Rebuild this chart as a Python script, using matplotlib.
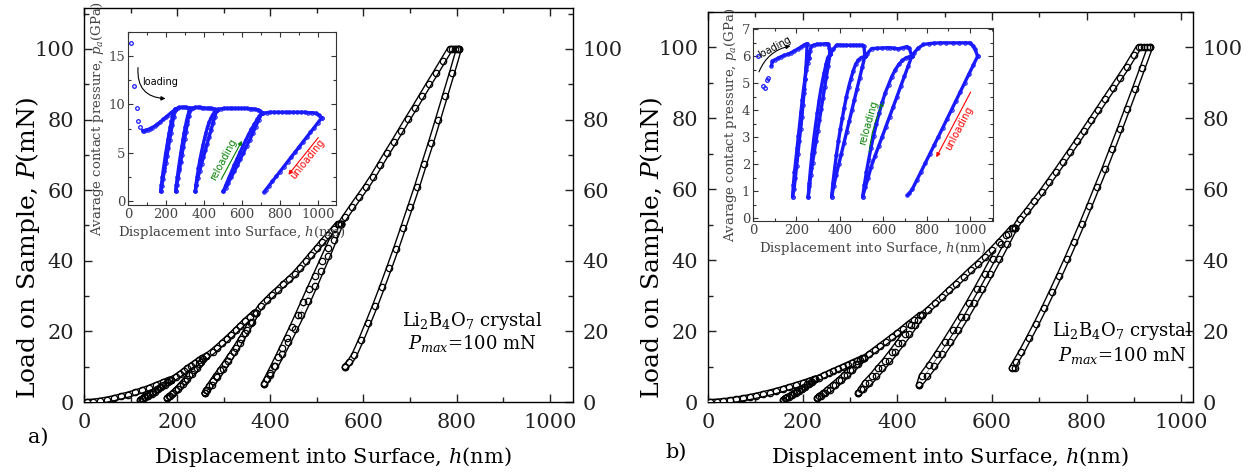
import matplotlib
matplotlib.use("Agg")
import matplotlib.pyplot as plt
from matplotlib.ticker import MultipleLocator

plt.rcParams["font.family"] = ["DejaVu Serif"]
plt.rcParams["mathtext.fontset"] = "dejavuserif"

W, H = 1252, 475

# ---- panel a: load (mN) vs displacement (nm) ----
a_load0_h = [6, 20, 35, 50, 65, 80, 95, 110, 125, 140, 155, 170, 183, 187]
a_load0_p = [0.0, 0.1, 0.35, 0.7, 1.1, 1.6, 2.1, 2.7, 3.3, 4.0, 4.8, 5.6, 6.3, 6.3]
a_unl1_h = [187, 180, 173, 166, 159, 152, 145, 138, 131, 126, 121]
a_unl1_p = [6.3, 5.6, 4.9, 4.2, 3.6, 2.9, 2.3, 1.8, 1.3, 0.9, 0.6]
a_rel1_h = [121, 124, 129, 135, 142, 149, 156, 163, 170, 178, 187]
a_rel1_p = [0.6, 0.9, 1.3, 1.8, 2.3, 2.9, 3.6, 4.2, 4.9, 5.6, 6.3]
a_load1_h = [187, 198, 206, 214, 222, 230, 238, 246, 254, 262]
a_load1_p = [6.3, 7.2, 7.9, 8.7, 9.5, 10.3, 11.0, 11.8, 12.5, 12.9]
a_unl2_h = [262, 252, 242, 232, 222, 212, 202, 192, 185, 178]
a_unl2_p = [12.9, 11.2, 9.6, 8.0, 6.6, 5.2, 3.8, 2.6, 1.8, 1.1]
a_rel2_h = [178, 183, 189, 197, 206, 216, 226, 236, 246, 255, 262]
a_rel2_p = [1.1, 1.6, 2.3, 3.3, 4.5, 6.0, 7.6, 9.2, 10.9, 12.3, 12.9]
a_load2_h = [262, 276, 286, 296, 306, 316, 326, 336, 346, 356, 366, 370]
a_load2_p = [12.9, 14.3, 15.4, 16.6, 17.8, 19.0, 20.3, 21.6, 22.9, 24.1, 25.3, 25.3]
a_unl3_h = [370, 358, 346, 334, 322, 310, 298, 286, 274, 265, 259]
a_unl3_p = [25.3, 22.4, 19.6, 16.8, 14.2, 11.7, 9.3, 7.0, 4.9, 3.4, 2.5]
a_rel3_h = [259, 263, 269, 276, 284, 293, 303, 314, 326, 338, 350, 360, 370]
a_rel3_p = [2.5, 3.3, 4.5, 5.9, 7.4, 9.0, 10.9, 13.0, 15.4, 17.9, 20.5, 22.8, 25.3]
a_load3_h = [370, 380, 392, 404, 416, 428, 440, 452, 464, 476, 488, 500, 512, 524, 536,
             545, 548, 551]
a_load3_p = [25.3, 27.2, 28.8, 30.4, 31.8, 33.3, 34.7, 36.2, 38.0, 39.8, 41.7, 43.5,
             45.4, 47.2, 49.0, 50.4, 50.4, 50.5]
a_unl4_h = [551, 537, 523, 509, 495, 481, 467, 453, 439, 425, 411, 399, 387]
a_unl4_p = [50.5, 45.9, 41.4, 37.1, 32.8, 28.6, 24.6, 20.8, 17.1, 13.5, 10.2, 7.6, 5.1]
a_rel4_h = [387, 392, 399, 407, 416, 426, 436, 447, 459, 471, 484, 497, 511, 524, 538, 551]
a_rel4_p = [5.1, 6.4, 8.2, 10.3, 12.7, 15.4, 18.2, 21.2, 24.7, 28.2, 32.0, 35.8, 39.9,
            43.7, 47.6, 50.5]
a_load4_h = [551, 560, 575, 590, 605, 620, 635, 650, 665, 680, 695, 710, 725, 740, 755,
             770, 786, 791, 796, 801, 805]
a_load4_p = [50.5, 52.3, 55.2, 58.0, 60.8, 63.8, 67.1, 70.4, 73.6, 76.9, 80.2, 83.4,
             86.7, 90.0, 93.2, 96.5, 100.0, 100.0, 100.0, 100.0, 100.0]
a_unl5_h = [805, 790, 775, 760, 745, 730, 715, 700, 685, 670, 655, 640, 625, 610, 595,
            580, 570, 560, 561]
a_unl5_p = [100.0, 93.2, 86.6, 80.0, 73.5, 67.3, 61.0, 55.1, 49.2, 43.4, 37.9, 32.5,
            27.3, 22.4, 17.6, 13.2, 11.2, 9.9, 9.9]

# ---- panel b ----
b_load0_h = [4, 18, 32, 46, 60, 74, 88, 102, 116, 130, 144, 158, 172, 186, 200, 214,
             223, 227]
b_load0_p = [0.0, 0.08, 0.24, 0.45, 0.72, 1.04, 1.38, 1.77, 2.19, 2.64, 3.12, 3.64,
             4.19, 4.76, 5.36, 5.98, 6.4, 6.4]
b_unl1_h = [227, 220, 213, 206, 199, 192, 185, 178, 171, 165, 159]
b_unl1_p = [6.4, 5.7, 5.0, 4.3, 3.7, 3.1, 2.5, 1.9, 1.4, 1.0, 0.6]
b_rel1_h = [159, 163, 168, 175, 182, 189, 196, 203, 210, 218, 227]
b_rel1_p = [0.6, 1.0, 1.4, 1.9, 2.5, 3.1, 3.7, 4.3, 5.0, 5.7, 6.4]
b_load1_h = [227, 235, 245, 255, 265, 275, 285, 295, 305, 315, 325, 329]
b_load1_p = [6.4, 6.9, 7.5, 8.1, 8.7, 9.3, 9.9, 10.5, 11.1, 11.7, 12.3, 12.3]
b_unl2_h = [329, 317, 305, 293, 281, 269, 257, 247, 239, 231]
b_unl2_p = [12.3, 10.7, 9.1, 7.5, 6.1, 4.7, 3.4, 2.4, 1.7, 1.0]
b_rel2_h = [231, 235, 244, 252, 264, 276, 288, 300, 312, 322, 329]
b_rel2_p = [1.0, 1.7, 2.4, 3.4, 4.7, 6.1, 7.5, 9.1, 10.7, 11.8, 12.3]
b_load2_h = [329, 340, 352, 364, 376, 388, 400, 412, 424, 436, 448, 452]
b_load2_p = [12.3, 13.4, 14.6, 15.8, 17.0, 18.2, 19.4, 20.7, 22.0, 23.2, 24.5, 24.5]
b_unl3_h = [452, 438, 424, 410, 396, 382, 368, 354, 340, 328, 318]
b_unl3_p = [24.5, 21.8, 19.1, 16.6, 14.1, 11.7, 9.5, 7.3, 5.3, 3.7, 2.5]
b_rel3_h = [318, 324, 332, 346, 360, 374, 388, 402, 416, 430, 444, 452]
b_rel3_p = [2.5, 3.7, 5.3, 7.3, 9.5, 11.7, 14.1, 16.6, 19.1, 21.8, 23.2, 24.5]
b_load3_h = [452, 465, 480, 495, 510, 525, 540, 555, 570, 585, 600, 615, 630, 642, 645,
             648]
b_load3_p = [24.5, 26.0, 27.8, 29.7, 31.6, 33.4, 35.3, 37.2, 39.0, 40.9, 42.9, 45.0,
             47.2, 49.0, 49.0, 49.0]
b_unl4_h = [648, 631, 614, 597, 580, 563, 546, 529, 512, 495, 478, 462, 446]
b_unl4_p = [49.0, 44.6, 40.3, 36.1, 32.0, 28.0, 24.1, 20.4, 16.9, 13.5, 10.2, 7.4, 4.8]
b_rel4_h = [446, 452, 468, 484, 500, 517, 534, 551, 568, 585, 602, 619, 634, 648]
b_rel4_p = [4.8, 7.4, 10.3, 13.5, 16.8, 20.4, 24.1, 28.0, 32.0, 36.1, 40.3, 44.6, 47.3, 49.0]
b_load4_h = [648, 660, 675, 690, 705, 720, 735, 750, 765, 780, 795, 810, 825, 840, 855,
             870, 885, 900, 910, 916, 922, 928, 934]
b_load4_p = [49.0, 51.5, 54.0, 56.6, 59.2, 62.0, 64.8, 67.7, 70.6, 73.5, 76.5, 79.5,
             82.5, 85.5, 88.5, 91.5, 94.5, 97.8, 100.0, 100.0, 100.0, 100.0, 100.0]
b_unl5_h = [934, 918, 902, 886, 870, 854, 838, 822, 806, 790, 774, 758, 742, 726, 710,
            694, 678, 662, 650, 642, 648]
b_unl5_p = [100.0, 94.1, 88.3, 82.6, 76.9, 71.3, 65.8, 60.6, 55.3, 50.1, 45.1, 40.2,
            35.5, 30.9, 26.4, 22.1, 18.0, 14.0, 11.3, 9.5, 9.5]

# ---- inset a: average contact pressure (GPa) vs displacement (nm) ----
ia_start_h = [16, 33, 46, 54, 63]
ia_start_p = [16.4, 11.9, 9.6, 8.3, 7.7]
ia_load_h = [77, 85, 95, 105, 115, 125, 140, 155, 170, 185, 200, 215, 230, 247]
ia_load_p = [7.3, 7.3, 7.35, 7.4, 7.5, 7.6, 7.75, 7.95, 8.2, 8.45, 8.7, 8.95, 9.2, 9.45]
ia_unl1_h = [247, 240, 233, 226, 219, 212, 205, 198, 191, 184, 178, 172]
ia_unl1_p = [9.45, 8.7, 7.9, 7.1, 6.3, 5.5, 4.7, 3.9, 3.1, 2.3, 1.6, 1.0]
ia_rel1_h = [172, 176, 181, 187, 193, 199, 205, 211, 217, 223, 229, 235, 241, 247]
ia_rel1_p = [1.0, 1.7, 2.5, 3.4, 4.2, 5.0, 5.7, 6.4, 7.1, 7.7, 8.3, 8.8, 9.2, 9.5]
ia_pl1_h = [247, 254, 262, 270, 282, 294, 306, 318, 326]
ia_pl1_p = [9.5, 9.55, 9.65, 9.7, 9.7, 9.7, 9.7, 9.65, 9.6]
ia_unl2_h = [326, 319, 312, 305, 298, 291, 284, 277, 270, 263, 257, 251]
ia_unl2_p = [9.6, 8.8, 8.0, 7.2, 6.4, 5.6, 4.8, 4.0, 3.2, 2.4, 1.7, 1.0]
ia_rel2_h = [251, 255, 260, 266, 272, 278, 284, 290, 296, 302, 308, 314, 320, 326]
ia_rel2_p = [1.0, 1.7, 2.5, 3.4, 4.2, 5.0, 5.7, 6.4, 7.1, 7.7, 8.3, 8.8, 9.2, 9.5]
ia_pl2_h = [326, 332, 342, 354, 366, 378, 390, 402, 414, 426, 438, 450, 460, 467]
ia_pl2_p = [9.5, 9.55, 9.65, 9.7, 9.7, 9.7, 9.65, 9.65, 9.6, 9.6, 9.6, 9.55, 9.5, 9.45]
ia_unl3_h = [467, 457, 447, 437, 427, 417, 407, 397, 387, 377, 367, 360, 354]
ia_unl3_p = [9.45, 8.75, 8.05, 7.35, 6.65, 5.95, 5.25, 4.55, 3.85, 3.1, 2.35, 1.7, 1.0]
ia_rel3_h = [354, 358, 364, 371, 379, 387, 395, 403, 411, 419, 428, 437, 446, 456, 467]
ia_rel3_p = [1.0, 1.7, 2.5, 3.4, 4.3, 5.1, 5.8, 6.5, 7.1, 7.7, 8.2, 8.6, 8.95, 9.2, 9.45]
ia_pl3_h = [467, 475, 490, 505, 520, 535, 550, 565, 580, 595, 610, 625, 640, 655, 670,
            685, 697, 704]
ia_pl3_p = [9.45, 9.5, 9.55, 9.6, 9.6, 9.6, 9.6, 9.6, 9.6, 9.6, 9.6, 9.6, 9.55, 9.55,
            9.5, 9.45, 9.3, 9.1]
ia_unl4_h = [704, 688, 672, 656, 640, 624, 608, 592, 576, 560, 544, 528, 515, 502]
ia_unl4_p = [9.1, 8.4, 7.7, 7.0, 6.3, 5.7, 5.0, 4.4, 3.7, 3.1, 2.5, 1.9, 1.4, 1.0]
ia_rel4_h = [502, 515, 530, 545, 560, 575, 590, 605, 620, 635, 650, 665, 680, 692, 704]
ia_rel4_p = [1.0, 1.65, 2.35, 3.05, 3.75, 4.4, 5.05, 5.7, 6.3, 6.9, 7.45, 7.95, 8.45,
             8.8, 9.1]
ia_pl4_h = [704, 712, 730, 750, 770, 790, 810, 830, 850, 870, 890, 910, 930, 950, 970,
            990, 1005, 1019]
ia_pl4_p = [9.1, 9.1, 9.15, 9.2, 9.2, 9.2, 9.2, 9.2, 9.2, 9.2, 9.2, 9.2, 9.2, 9.15, 9.15,
            9.1, 8.9, 8.6]
ia_unl5_h = [1019, 1000, 980, 960, 940, 920, 900, 880, 860, 840, 820, 800, 780, 760, 740,
             725, 716]
ia_unl5_p = [8.6, 8.12, 7.61, 7.11, 6.6, 6.1, 5.59, 5.08, 4.58, 4.07, 3.56, 3.06, 2.55,
             2.05, 1.54, 1.16, 0.93]

# ---- inset b ----
ib_start_h = [23, 46, 54, 65, 71]
ib_start_p = [6.0, 4.9, 4.83, 5.14, 5.2]
ib_load_h = [85, 89, 100, 115, 130, 145, 160, 175, 190, 205, 220, 235, 249]
ib_load_p = [5.64, 5.82, 5.87, 5.93, 5.99, 6.04, 6.08, 6.13, 6.2, 6.27, 6.34, 6.42, 6.47]
ib_unl1_h = [249, 247, 244, 240, 235, 230, 225, 219, 213, 207, 201, 195, 189, 182]
ib_unl1_p = [6.47, 6.0, 5.6, 5.15, 4.65, 4.2, 3.75, 3.3, 2.85, 2.4, 1.95, 1.5, 1.1, 0.8]
ib_rel1_h = [182, 186, 191, 197, 203, 209, 215, 221, 227, 233, 239, 245, 251, 257]
ib_rel1_p = [0.8, 1.25, 1.7, 2.15, 2.6, 3.05, 3.5, 3.95, 4.4, 4.8, 5.15, 5.5, 5.75, 5.95]
ib_pl1_h = [257, 262, 269, 280, 295, 310, 325, 340, 347, 352, 354]
ib_pl1_p = [5.95, 6.2, 6.38, 6.42, 6.45, 6.45, 6.46, 6.47, 6.45, 6.3, 6.07]
ib_unl2_h = [354, 346, 338, 330, 322, 314, 306, 298, 290, 282, 274, 266, 260, 254]
ib_unl2_p = [6.07, 5.65, 5.25, 4.85, 4.45, 4.05, 3.65, 3.25, 2.85, 2.45, 2.05, 1.6, 1.2, 0.78]
ib_rel2_h = [254, 259, 265, 272, 280, 288, 296, 304, 312, 320, 328, 336, 344, 354]
ib_rel2_p = [0.78, 1.3, 1.85, 2.4, 2.95, 3.45, 3.9, 4.35, 4.75, 5.1, 5.4, 5.7, 5.95, 6.07]
ib_pl2_h = [354, 369, 385, 400, 415, 430, 445, 460, 475, 490, 500, 511, 515]
ib_pl2_p = [6.07, 6.26, 6.42, 6.42, 6.41, 6.41, 6.41, 6.41, 6.41, 6.41, 6.41, 6.37, 6.0]
ib_unl3_h = [515, 503, 491, 479, 467, 455, 443, 431, 419, 407, 395, 383, 372, 362]
ib_unl3_p = [6.0, 5.6, 5.2, 4.8, 4.4, 4.0, 3.6, 3.2, 2.8, 2.4, 2.0, 1.6, 1.2, 0.8]
ib_rel3_h = [362, 368, 376, 384, 393, 402, 411, 420, 430, 440, 450, 461, 472, 484, 497, 515]
ib_rel3_p = [0.8, 1.3, 1.85, 2.35, 2.85, 3.3, 3.7, 4.1, 4.5, 4.85, 5.15, 5.45, 5.7, 5.85,
             5.95, 6.0]
ib_pl3_h = [515, 523, 546, 570, 595, 615, 631, 650, 669, 690, 708, 720, 731]
ib_pl3_p = [6.0, 6.07, 6.29, 6.3, 6.31, 6.32, 6.32, 6.3, 6.28, 6.32, 6.36, 6.3, 6.0]
ib_unl4_h = [731, 714, 697, 680, 663, 646, 629, 612, 595, 578, 561, 544, 530, 517, 505]
ib_unl4_p = [6.0, 5.63, 5.26, 4.89, 4.51, 4.14, 3.77, 3.4, 3.03, 2.66, 2.29, 1.91, 1.5,
             1.15, 0.8]
ib_rel4_h = [505, 513, 522, 532, 543, 555, 568, 581, 595, 609, 624, 639, 655, 671, 688,
             705, 718, 731]
ib_rel4_p = [0.8, 1.25, 1.7, 2.15, 2.6, 3.05, 3.5, 3.9, 4.3, 4.65, 4.95, 5.25, 5.5, 5.7,
             5.85, 5.95, 5.98, 6.0]
ib_pl4_h = [731, 742, 760, 785, 810, 835, 862, 890, 920, 950, 975, 1000, 1012, 1023, 1034]
ib_pl4_p = [6.0, 6.13, 6.3, 6.44, 6.47, 6.49, 6.5, 6.5, 6.5, 6.5, 6.5, 6.5, 6.4, 6.26, 6.0]
ib_unl5_h = [1034, 1014, 994, 974, 954, 934, 914, 894, 874, 854, 834, 814, 794, 774, 754,
             734, 720, 711]
ib_unl5_p = [6.0, 5.67, 5.34, 5.01, 4.68, 4.35, 4.02, 3.69, 3.36, 3.03, 2.71, 2.38, 2.06,
             1.73, 1.41, 1.09, 0.93, 0.85]

a_segments = [(a_load0_h, a_load0_p), (a_unl1_h, a_unl1_p), (a_rel1_h, a_rel1_p),
              (a_load1_h, a_load1_p), (a_unl2_h, a_unl2_p), (a_rel2_h, a_rel2_p),
              (a_load2_h, a_load2_p), (a_unl3_h, a_unl3_p), (a_rel3_h, a_rel3_p),
              (a_load3_h, a_load3_p), (a_unl4_h, a_unl4_p), (a_rel4_h, a_rel4_p),
              (a_load4_h, a_load4_p), (a_unl5_h, a_unl5_p)]
b_segments = [(b_load0_h, b_load0_p), (b_unl1_h, b_unl1_p), (b_rel1_h, b_rel1_p),
              (b_load1_h, b_load1_p), (b_unl2_h, b_unl2_p), (b_rel2_h, b_rel2_p),
              (b_load2_h, b_load2_p), (b_unl3_h, b_unl3_p), (b_rel3_h, b_rel3_p),
              (b_load3_h, b_load3_p), (b_unl4_h, b_unl4_p), (b_rel4_h, b_rel4_p),
              (b_load4_h, b_load4_p), (b_unl5_h, b_unl5_p)]
ia_segments = [(ia_load_h, ia_load_p), (ia_unl1_h, ia_unl1_p), (ia_rel1_h, ia_rel1_p),
               (ia_pl1_h, ia_pl1_p), (ia_unl2_h, ia_unl2_p), (ia_rel2_h, ia_rel2_p),
               (ia_pl2_h, ia_pl2_p), (ia_unl3_h, ia_unl3_p), (ia_rel3_h, ia_rel3_p),
               (ia_pl3_h, ia_pl3_p), (ia_unl4_h, ia_unl4_p), (ia_rel4_h, ia_rel4_p),
               (ia_pl4_h, ia_pl4_p), (ia_unl5_h, ia_unl5_p)]
ib_segments = [(ib_load_h, ib_load_p), (ib_unl1_h, ib_unl1_p), (ib_rel1_h, ib_rel1_p),
               (ib_pl1_h, ib_pl1_p), (ib_unl2_h, ib_unl2_p), (ib_rel2_h, ib_rel2_p),
               (ib_pl2_h, ib_pl2_p), (ib_unl3_h, ib_unl3_p), (ib_rel3_h, ib_rel3_p),
               (ib_pl3_h, ib_pl3_p), (ib_unl4_h, ib_unl4_p), (ib_rel4_h, ib_rel4_p),
               (ib_pl4_h, ib_pl4_p), (ib_unl5_h, ib_unl5_p)]


def box(left, top, right, bottom):
    """pixel box -> figure fraction rect"""
    return [left / W, 1 - bottom / H, (right - left) / W, (bottom - top) / H]


def style_main(ax, xmax, ymax):
    ax.set_xlim(0, xmax)
    ax.set_ylim(0, ymax)
    ax.xaxis.set_major_locator(MultipleLocator(200))
    ax.xaxis.set_minor_locator(MultipleLocator(100))
    ax.yaxis.set_major_locator(MultipleLocator(20))
    ax.yaxis.set_minor_locator(MultipleLocator(10))
    ax.tick_params(which="both", direction="in", top=True, right=True,
                   labelright=True, labelsize=15, width=1.0, colors="#222222")
    ax.tick_params(which="major", length=6)
    ax.tick_params(which="minor", length=3.5)
    ax.tick_params(axis="x", pad=8)
    ax.tick_params(axis="y", pad=7)
    for s in ax.spines.values():
        s.set_linewidth(1.0)


def style_inset(ax, xmax, ylo, yhi, ymaj, ymin):
    ax.set_facecolor("white")
    ax.set_xlim(0, xmax)
    ax.set_ylim(ylo, yhi)
    ax.xaxis.set_major_locator(MultipleLocator(200))
    ax.xaxis.set_minor_locator(MultipleLocator(100))
    ax.yaxis.set_major_locator(MultipleLocator(ymaj))
    ax.yaxis.set_minor_locator(MultipleLocator(ymin))
    ax.tick_params(which="both", direction="in", top=True, right=True,
                   labelsize=9.5, width=0.8, colors="#333333", labelcolor="#444444",
                   pad=2)
    ax.tick_params(which="major", length=3.5)
    ax.tick_params(which="minor", length=2)
    for s in ax.spines.values():
        s.set_linewidth(0.8)
        s.set_color("#333333")
    ax.set_xlabel("Displacement into Surface, $h$(nm)", fontsize=9.5, color="#444444",
                  labelpad=2)
    ax.set_ylabel("Avarage contact pressure, $p_a$(GPa)", fontsize=9.5,
                  color="#444444", labelpad=2)


def chain(ax, segs, color, outer, inner, ms, mew):
    # dense runs of open circles: dark tube, light core, then the read points
    for h, p in segs:
        ax.plot(h, p, "-", lw=outer, color=color, solid_capstyle="round",
                solid_joinstyle="round", zorder=2)
    if inner:
        for h, p in segs:
            ax.plot(h, p, "-", lw=inner, color="white", solid_capstyle="round",
                    solid_joinstyle="round", zorder=3)
    for h, p in segs:
        ax.plot(h, p, "o", ms=ms, mfc="none", mec=color, mew=mew, zorder=4)


fig = plt.figure(figsize=(W / 100, H / 100), dpi=100)

ax_a = fig.add_axes(box(84, 8, 573, 402))
ax_b = fig.add_axes(box(708, 12, 1193, 402))
style_main(ax_a, 1050, 111.6)
style_main(ax_b, 1025, 110)

for ax, segs in ((ax_a, a_segments), (ax_b, b_segments)):
    chain(ax, segs, "black", 4.6, 2.6, 4.6, 0.9)

for x in (333, 950):
    fig.text(x / W, 1 - 457 / H, "Displacement into Surface, $h$(nm)", fontsize=15,
             ha="center", va="center")
for x in (28, 652):
    fig.text(x / W, 1 - 248 / H, "Load on Sample, $P$(mN)", fontsize=18,
             ha="center", va="center", rotation=90)

for x, y1, y2 in ((472, 321, 343), (1122, 331, 355)):
    fig.text(x / W, 1 - y1 / H, "Li$_2$B$_4$O$_7$ crystal", fontsize=13,
             ha="center", va="center")
    fig.text(x / W, 1 - y2 / H, "$P_{max}$=100 mN", fontsize=13,
             ha="center", va="center")

fig.text(38 / W, 1 - 437 / H, "a)", fontsize=15, ha="center", va="center")
fig.text(676 / W, 1 - 452 / H, "b)", fontsize=15, ha="center", va="center")

# insets
ins_a = fig.add_axes(box(128, 32, 336, 205))
ins_b = fig.add_axes(box(753, 28, 993, 221))
style_inset(ins_a, 1095, -0.4, 17.5, 5, 2.5)
style_inset(ins_b, 1105, -0.1, 7.05, 1, 0.5)
blue = "#1a1aff"
chain(ins_a, ia_segments, blue, 2.4, 0, 2.4, 0.8)
chain(ins_b, ib_segments, blue, 2.4, 0, 2.4, 0.8)
ins_a.plot(ia_start_h, ia_start_p, "o", ms=2.6, mfc="none", mec=blue, mew=0.9)
ins_b.plot(ib_start_h, ib_start_p, "o", ms=2.6, mfc="none", mec=blue, mew=0.9)

sans = ["DejaVu Sans"]
# inset a annotations
ins_a.annotate("", xy=(212, 10.6), xytext=(54, 14.1),
               arrowprops=dict(arrowstyle="-|>", color="black", lw=0.8,
                               mutation_scale=6, connectionstyle="arc3,rad=0.55"))
ins_a.text(168, 12.3, "loading", fontsize=7, family=sans, ha="center", va="center")
ins_a.annotate("", xy=(607, 6.5), xytext=(484, 2.0),
               arrowprops=dict(arrowstyle="-|>", color="green", lw=0.8, mutation_scale=6))
ins_a.text(502, 4.3, "reloading", fontsize=7, family=sans, color="green",
           rotation=62, ha="center", va="center")
ins_a.annotate("", xy=(835, 2.5), xytext=(1011, 6.8),
               arrowprops=dict(arrowstyle="-|>", color="red", lw=0.8, mutation_scale=6))
ins_a.text(945, 4.4, "unloading", fontsize=7, family=sans, color="red",
           rotation=51, ha="center", va="center")

# inset b annotations
ins_b.annotate("", xy=(185, 6.4), xytext=(23, 5.33),
               arrowprops=dict(arrowstyle="-|>", color="black", lw=0.8,
                               mutation_scale=6, connectionstyle="arc3,rad=-0.3"))
ins_b.text(98, 6.35, "loading", fontsize=7, family=sans, rotation=28,
           ha="center", va="center")
ins_b.annotate("", xy=(607, 4.42), xytext=(534, 2.35),
               arrowprops=dict(arrowstyle="-|>", color="green", lw=0.8,
                               mutation_scale=6, connectionstyle="arc3,rad=-0.1"))
ins_b.text(531, 3.55, "reloading", fontsize=7, family=sans, color="green",
           rotation=74, ha="center", va="center")
ins_b.annotate("", xy=(838, 2.17), xytext=(1008, 4.77),
               arrowprops=dict(arrowstyle="-|>", color="red", lw=0.8, mutation_scale=6))
ins_b.text(950, 3.35, "unloading", fontsize=7, family=sans, color="red",
           rotation=62, ha="center", va="center")

fig.savefig("out.png", dpi=100)
